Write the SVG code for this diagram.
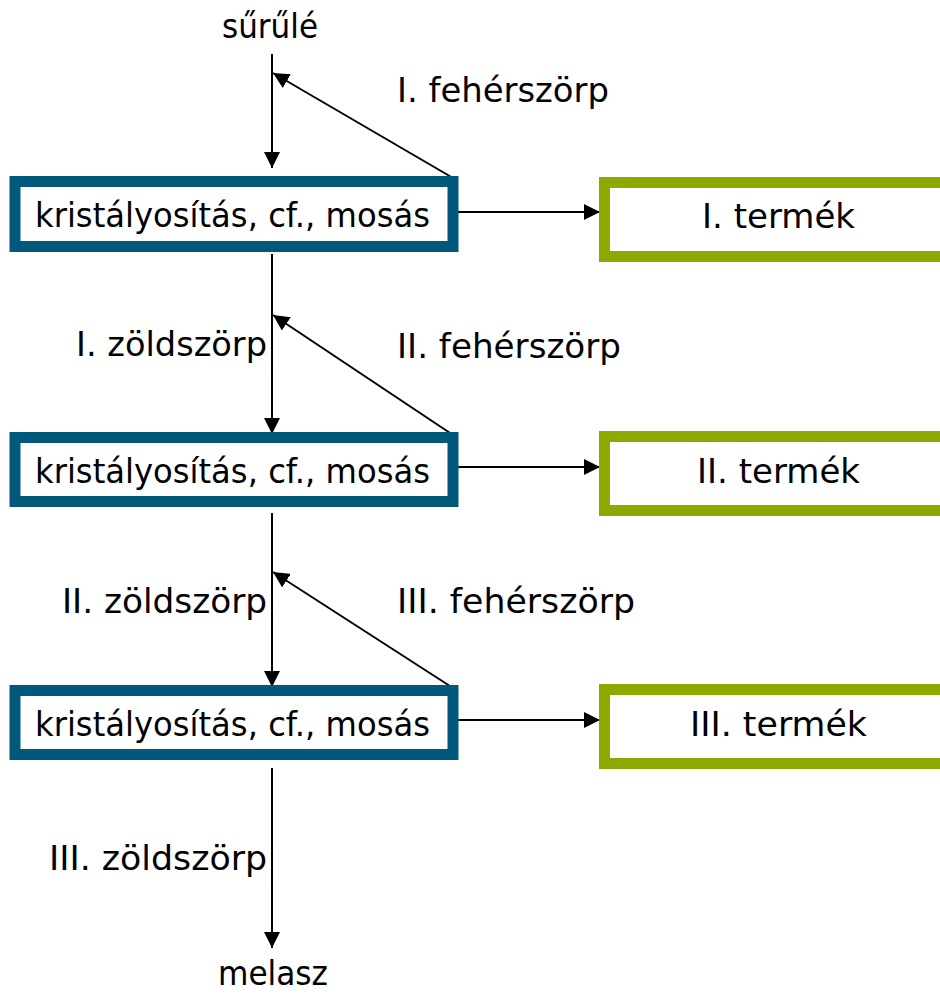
<svg xmlns="http://www.w3.org/2000/svg" width="940" height="996" viewBox="0 0 940 996">
<style>
text{font-family:"DejaVu Sans","Liberation Sans",sans-serif;font-size:34px;fill:#000}
.mid{text-anchor:middle}
.end{text-anchor:end}
.blue{fill:#fff;stroke:#00587a;stroke-width:11}
.green{fill:#fff;stroke:#8fa800;stroke-width:11}
.c{stroke:#000;stroke-width:2;fill:none}
</style>
<defs>
<marker id="ah" viewBox="0 0 16 16" refX="16" refY="8" markerWidth="16" markerHeight="16" markerUnits="userSpaceOnUse" orient="auto">
<path d="M0,0 L16,8 L0,16 Z" fill="#000"/>
</marker>
</defs>
<g id="connectors">
<line class="c" x1="272" y1="54" x2="272" y2="168" marker-end="url(#ah)"/>
<line class="c" x1="453" y1="178" x2="273" y2="73" marker-end="url(#ah)"/>
<line class="c" x1="453" y1="212" x2="600" y2="212" marker-end="url(#ah)"/>
<line class="c" x1="272" y1="254" x2="272" y2="434" marker-end="url(#ah)"/>
<line class="c" x1="450" y1="433" x2="273" y2="315" marker-end="url(#ah)"/>
<line class="c" x1="453" y1="467" x2="600" y2="467" marker-end="url(#ah)"/>
<line class="c" x1="272" y1="513" x2="272" y2="687" marker-end="url(#ah)"/>
<line class="c" x1="453" y1="688" x2="273" y2="572" marker-end="url(#ah)"/>
<line class="c" x1="453" y1="720" x2="600" y2="720" marker-end="url(#ah)"/>
<line class="c" x1="272" y1="768" x2="272" y2="948" marker-end="url(#ah)"/>
</g>
<g id="labels">
<text class="mid" x="270" y="38" textLength="96" lengthAdjust="spacingAndGlyphs">sűrűlé</text>
<text class="mid" x="273" y="985" textLength="110" lengthAdjust="spacingAndGlyphs">melasz</text>
<text x="397" y="102" textLength="212" lengthAdjust="spacingAndGlyphs">I. fehérszörp</text>
<text x="397" y="358" textLength="224" lengthAdjust="spacingAndGlyphs">II. fehérszörp</text>
<text x="397" y="613" textLength="238" lengthAdjust="spacingAndGlyphs">III. fehérszörp</text>
<text x="76" y="356" textLength="191" lengthAdjust="spacingAndGlyphs">I. zöldszörp</text>
<text x="62" y="613" textLength="205" lengthAdjust="spacingAndGlyphs">II. zöldszörp</text>
<text x="49" y="870" textLength="218" lengthAdjust="spacingAndGlyphs">III. zöldszörp</text>
</g>
<g id="k1">
<rect class="blue" x="15" y="181.5" width="438" height="65"/>
<text x="35" y="227" textLength="395" lengthAdjust="spacingAndGlyphs">kristályosítás, cf., mosás</text>
</g>
<g id="k2">
<rect class="blue" x="15" y="437.5" width="438" height="64"/>
<text x="35" y="483" textLength="395" lengthAdjust="spacingAndGlyphs">kristályosítás, cf., mosás</text>
</g>
<g id="k3">
<rect class="blue" x="15" y="690.5" width="438" height="64"/>
<text x="35" y="736" textLength="395" lengthAdjust="spacingAndGlyphs">kristályosítás, cf., mosás</text>
</g>
<g id="t1">
<rect class="green" x="604.5" y="182.5" width="352" height="74"/>
<text x="702" y="228" textLength="153" lengthAdjust="spacingAndGlyphs">I. termék</text>
</g>
<g id="t2">
<rect class="green" x="604.5" y="436.5" width="352" height="74"/>
<text x="697" y="483" textLength="163" lengthAdjust="spacingAndGlyphs">II. termék</text>
</g>
<g id="t3">
<rect class="green" x="604.5" y="689.5" width="352" height="74"/>
<text x="690" y="736" textLength="177" lengthAdjust="spacingAndGlyphs">III. termék</text>
</g>
</svg>
